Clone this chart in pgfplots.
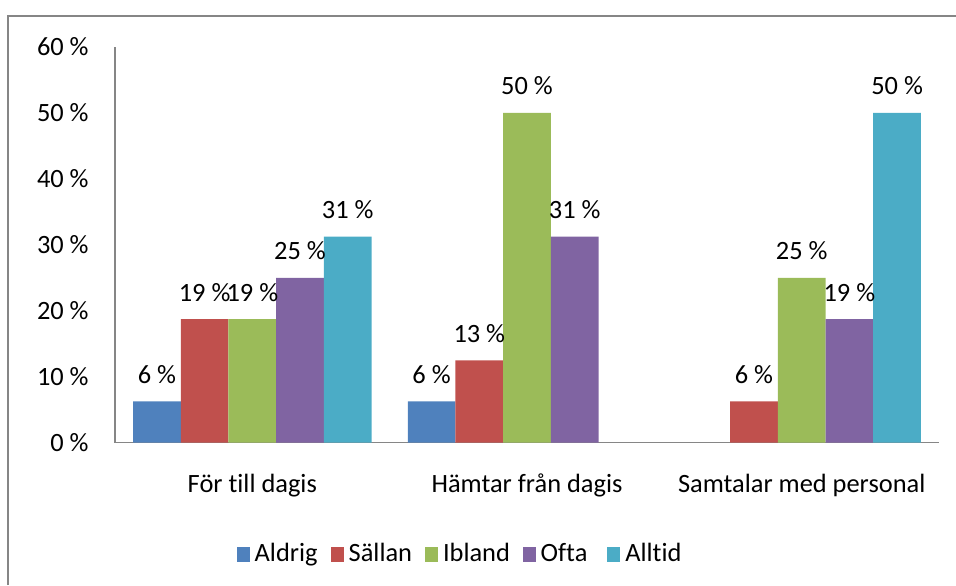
\documentclass[border=0pt]{standalone}
\usepackage{fontspec}
\setmainfont{Carlito}[Ligatures=NoCommon]
\usepackage{pgfplots}
\pgfplotsset{compat=1.18}
\definecolor{cA}{HTML}{4F81BD}
\definecolor{cB}{HTML}{C0504D}
\definecolor{cC}{HTML}{9BBB59}
\definecolor{cD}{HTML}{8064A2}
\definecolor{cE}{HTML}{4BACC6}
\definecolor{axgray}{RGB}{134,134,134}
\begin{document}
\fontsize{13.2pt}{16pt}\selectfont
\begin{tikzpicture}
\path[use as bounding box] (0,0) rectangle (478pt,292.5pt);
\draw[axgray, line width=1pt] (4pt,0) -- (4pt,284.5pt) -- (478pt,284.5pt);
\begin{axis}[
  at={(57.5pt,71.15pt)}, anchor=south west,
  scale only axis, width=412pt, height=197.85pt,
  xmin=-0.5, xmax=2.5, ymin=0, ymax=60,
  axis lines=left, axis line style={axgray, line width=0.75pt, -},
  ybar=0pt, bar width=23.85pt,
  xtick={0,1,2}, xticklabels={För till dagis, Hämtar från dagis, Samtalar med personal},
  ytick={0,10,...,60}, yticklabels={0 \%, 10 \%, 20 \%, 30 \%, 40 \%, 50 \%, 60 \%},
  major tick length=0pt,
  xticklabel style={anchor=base, inner sep=0pt, yshift=-25pt},
  yticklabel style={anchor=east, inner sep=0pt, xshift=-13pt},
  point meta=explicit symbolic,
  nodes near coords,
  nodes near coords style={anchor=base, inner sep=0pt, yshift=9pt, text=black},
  legend columns=5,
  legend style={draw=none, fill=none, inner sep=0pt, outer sep=0pt,
    at={(0.1477,-0.2856)}, anchor=west,
    nodes={inner sep=0pt, text height=9pt, text depth=3pt},
    /tikz/every odd column/.append style={column sep=2.5pt},
    /tikz/every even column/.append style={column sep=0pt}},
  legend image code/.code={\fill[#1] (0pt,-3pt) rectangle (6.5pt,4.2pt);},
  clip=false,
]
\addplot[fill=cA, draw=none] coordinates {(0,6.25) [6 \%] (1,6.25) [6 \%]};
\addplot[fill=cB, draw=none] coordinates {(0,18.75) [19 \%] (1,12.5) [13 \%] (2,6.25) [6 \%]};
\addplot[fill=cC, draw=none] coordinates {(0,18.75) [19 \%] (1,50) [50 \%] (2,25) [25 \%]};
\addplot[fill=cD, draw=none] coordinates {(0,25) [25 \%] (1,31.25) [31 \%] (2,18.75) [19 \%]};
\addplot[fill=cE, draw=none] coordinates {(0,31.25) [31 \%] (2,50) [50 \%]};
\legend{\makebox[38pt][l]{Aldrig}, \makebox[38.15pt][l]{Sällan}, \makebox[39.85pt][l]{Ibland}, \makebox[33.3pt][l]{Ofta}, Alltid}
\end{axis}
\end{tikzpicture}
\end{document}
